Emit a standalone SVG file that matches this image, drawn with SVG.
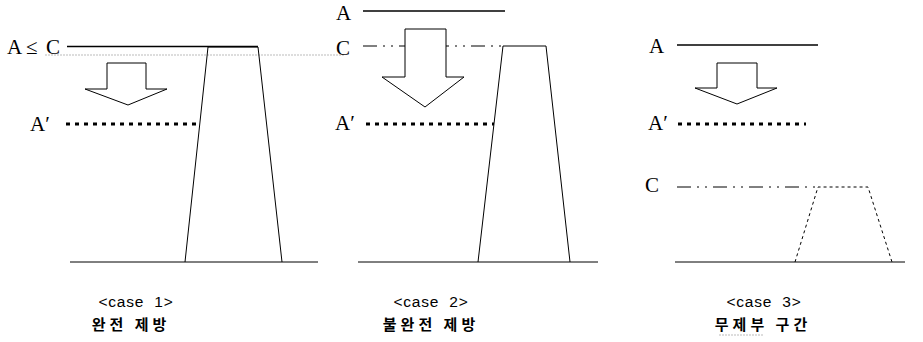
<svg xmlns="http://www.w3.org/2000/svg" width="923" height="342" viewBox="0 0 923 342">
<style>
.lbl{font-family:"Liberation Serif",serif;font-size:21px;fill:#000}
.cap{font-family:"Liberation Sans",Arial,sans-serif;font-size:15.5px;fill:#000;text-anchor:middle;letter-spacing:0.8px;word-spacing:5px}
.kor{font-family:"Noto Sans CJK KR",sans-serif;font-size:15px;font-weight:bold;fill:#000;text-anchor:middle;letter-spacing:4px}
.solid{stroke:#000;stroke-width:1.4;fill:none}
.thin{stroke:#000;stroke-width:1;fill:none}
.dot{stroke:#000;stroke-width:3;stroke-dasharray:4 5;fill:none}
.dashdot{stroke:#000;stroke-width:1;stroke-dasharray:14 6 2 6 2 6;fill:none}
.arrow{fill:#fff;stroke:#000;stroke-width:1}
.gray{stroke:#bbb;stroke-width:1;stroke-dasharray:2 1;fill:none}
</style>
<g id="case1">
<text class="lbl" x="7" y="54">A</text>
<text class="lbl" x="26" y="54">≤</text>
<text class="lbl" x="46" y="54">C</text>
<line class="gray" x1="45" y1="55" x2="345" y2="55"/>
<polyline class="solid" points="67,46.5 258,46.5"/>
<polyline class="thin" points="185,262 208,47 258,47 282,262"/>
<line class="thin" x1="70" y1="262" x2="318" y2="262"/>
<polygon class="arrow" points="107,63 146,63 146,89 167,89 128,105 85,89 107,89"/>
<text class="lbl" x="30" y="131">A′</text>
<line class="dot" x1="66" y1="124" x2="196" y2="124"/>
<text class="cap" x="136" y="307">&lt;case 1&gt;</text>
<text class="kor" x="131" y="330">완전 제방</text>
</g>
<g id="case2">
<text class="lbl" x="336" y="20">A</text>
<line class="solid" x1="363" y1="11" x2="505" y2="11"/>
<text class="lbl" x="336" y="55">C</text>
<line class="dashdot" x1="363" y1="46" x2="503" y2="46"/>
<polyline class="thin" points="478,262 503,46 546,46 570,262"/>
<line class="thin" x1="358" y1="262" x2="598" y2="262"/>
<polygon class="arrow" points="405,29 446,29 446,77 464,77 425,107 382,77 405,77"/>
<text class="lbl" x="335" y="130">A′</text>
<line class="dot" x1="366" y1="124" x2="494" y2="124"/>
<text class="cap" x="431" y="307">&lt;case 2&gt;</text>
<text class="kor" x="431" y="330">불완전 제방</text>
</g>
<g id="case3">
<text class="lbl" x="649" y="53">A</text>
<line class="solid" x1="677" y1="45" x2="818" y2="45"/>
<polygon class="arrow" points="717,63 757,63 757,88 777,88 737,104 695,88 717,88"/>
<text class="lbl" x="648" y="130">A′</text>
<line class="dot" x1="678" y1="124" x2="806" y2="124"/>
<text class="lbl" x="645" y="192">C</text>
<line class="dashdot" x1="677" y1="187" x2="818" y2="187"/>
<polyline class="thin" style="stroke-dasharray:3 3" points="795,262 818,187 868,187 892,262"/>
<line class="thin" x1="675" y1="262" x2="905" y2="262"/>
<text class="cap" x="764" y="307">&lt;case 3&gt;</text>
<text class="kor" x="763" y="330">무제부 구간</text>
<line class="gray" x1="719" y1="335" x2="763" y2="335"/>
</g>
<g id="connectors"></g>
</svg>
